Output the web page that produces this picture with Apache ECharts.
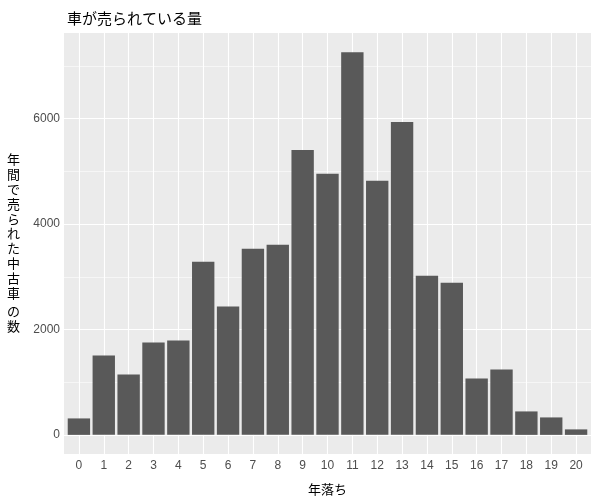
<!DOCTYPE html>
<html>
<head>
<meta charset="utf-8">
<script src="https://cdn.jsdelivr.net/npm/echarts@6/dist/echarts.min.js"></script>
<style>html,body{margin:0;padding:0;background:#fff;}#c{width:600px;height:500px;}</style>
</head>
<body>
<div id="c"></div>
<script>
const ages = [0,1,2,3,4,5,6,7,8,9,10,11,12,13,14,15,16,17,18,19,20];
const counts = [312,1506,1146,1752,1790,3286,2434,3532,3608,5407,4953,7263,4820,5938,3021,2888,1070,1240,445,331,104];
const yMajor = [0,2000,4000,6000];
const yMinor = [1000,3000,5000,7000];
const titleText = '車が売られている量';
const xName = '年落ち';
const yNameParts = ['年間で売られた中古車', 'の数'];

const font = '"Noto Sans CJK JP", sans-serif';
const chart = echarts.init(document.getElementById('c'), null, {renderer:'canvas'});
const yMin = -363, yMax = 7626;
const gridLines = [];
yMajor.forEach(v => gridLines.push({yAxis: v, lineStyle:{color:'#fff', width:1.1, type:'solid'}}));
yMinor.forEach(v => gridLines.push({yAxis: v, lineStyle:{color:'#fff', width:0.55, type:'solid'}}));
ages.forEach(v => gridLines.push({xAxis: v, lineStyle:{color:'#fff', width:1.1, type:'solid'}}));

chart.setOption({
  animation: false,
  backgroundColor: '#fff',
  title: {
    text: titleText, left: 62, top: 6,
    textStyle: {fontFamily: font, fontSize: 15, fontWeight: 'normal', color: '#000'}
  },
  grid: {left: 64, top: 33, right: 9, bottom: 46, show: true, backgroundColor: '#EBEBEB', borderWidth: 0, containLabel: false, outerBoundsMode: 'none'},
  xAxis: {
    type: 'value', min: -0.6, max: 20.6,
    name: xName, nameLocation: 'middle', nameGap: 29,
    nameTextStyle: {fontFamily: font, fontSize: 13, color: '#000'},
    axisLine: {show: false},
    axisTick: {show: true, length: 4, lineStyle: {color: '#333'}, customValues: ages},
    axisLabel: {fontFamily: 'Liberation Sans, Arial, sans-serif', fontSize: 12, color: '#4D4D4D', margin: 6, customValues: ages},
    splitLine: {show: false}
  },
  yAxis: {
    type: 'value', min: yMin, max: yMax,
    axisLine: {show: false},
    axisTick: {show: true, length: 4, lineStyle: {color: '#333'}, customValues: yMajor},
    axisLabel: {fontFamily: 'Liberation Sans, Arial, sans-serif', fontSize: 12, color: '#4D4D4D', margin: 4, customValues: yMajor, formatter: v => String(v)},
    splitLine: {show: false}
  },
  graphic: [{
    type: 'text', left: 7, top: 152,
    style: {text: yNameParts[0].split('').join('\n'), fontFamily: font, fontSize: 13, lineHeight: 14.8, fill: '#000', align: 'center'}
  },{
    type: 'text', left: 7, top: 152 + 14.8 * 10 + 4,
    style: {text: yNameParts[1].split('').join('\n'), fontFamily: font, fontSize: 13, lineHeight: 14.8, fill: '#000', align: 'center'}
  }],
  series: [{
    type: 'line', data: [], z: 1, silent: true,
    markLine: {silent: true, z: 1, symbol: 'none', label: {show: false}, animation: false, data: gridLines}
  },{
    type: 'bar', z: 3,
    data: ages.map((a, i) => [a, counts[i]]),
    barWidth: '90%',
    itemStyle: {color: '#595959'}
  }]
});
</script>
</body>
</html>
